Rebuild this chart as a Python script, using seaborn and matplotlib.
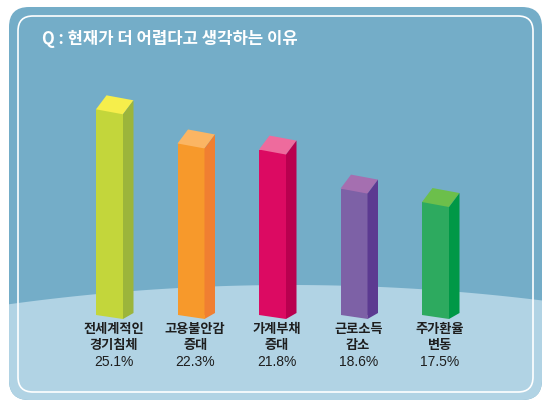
import numpy as np
import matplotlib
matplotlib.use("Agg")
import matplotlib.pyplot as plt
from matplotlib.patches import FancyBboxPatch, Polygon
import seaborn as sns
import pandas as pd

# ---- data ----
categories = ["전세계적인\n경기침체", "고용불안감\n증대", "가계부채\n증대", "근로소득\n감소", "주가환율\n변동"]
values = [25.1, 22.3, 21.8, 18.6, 17.5]
value_labels = ["25.1%", "22.3%", "21.8%", "18.6%", "17.5%"]
title = "Q : 현재가 더 어렵다고 생각하는 이유"

front_colors = ["#C3D63B", "#F7992B", "#DC0A62", "#7D61A6", "#2DAA5F"]
side_colors = ["#9CB53B", "#F07F31", "#B9004F", "#5C3A91", "#009846"]
top_colors = ["#F6EE4B", "#FBB563", "#EE6B9D", "#A56FB0", "#6CBF4B"]

BLUE = "#74ADC8"
HILL = "#B1D3E4"

sns.set_theme(style="white")
plt.rcParams['font.family'] = ['Noto Sans CJK KR', 'DejaVu Sans']

W, H = 550, 409
fig = plt.figure(figsize=(5.5, 4.09), dpi=100)
fig.patch.set_facecolor("white")

# ---- background panel ----
bg = fig.add_axes([0, 0, 1, 1])
bg.set_xlim(0, W)
bg.set_ylim(H, 0)
bg.axis("off")

outer = FancyBboxPatch((9, 7), 533, 393, boxstyle="round,pad=0,rounding_size=20",
                       fc=BLUE, ec="none")
bg.add_patch(outer)
xs = np.linspace(0, W, 300)
Rc = 2060
ys = 285 + (Rc - np.sqrt(Rc ** 2 - (xs - 290) ** 2))
hill = Polygon(np.column_stack([np.r_[xs, W, 0], np.r_[ys, H, H]]), closed=True,
               fc=HILL, ec="none")
bg.add_patch(hill)
hill.set_clip_path(outer)
inner = FancyBboxPatch((18, 16), 515, 376, boxstyle="round,pad=0,rounding_size=15",
                       fc="none", ec="white", lw=1.2)
bg.add_patch(inner)
bg.text(42, 39, title, color="white", fontsize=12, va="center", ha="left",
        fontweight="bold")

# ---- chart axes ----
x_px0, x_step = 109.5, 81.5
base_px, top_px = 315, 60
k = 12.2          # pixels per percentage point
v0 = 8.24         # value at the drawn base
bw = 27 / x_step  # front face width

ax = fig.add_axes([(x_px0 - x_step / 2) / W, (H - base_px) / H,
                   5 * x_step / W, (base_px - top_px) / H])
ax.patch.set_alpha(0)
df = pd.DataFrame({"cat": categories, "val": values})
sns.barplot(data=df, x="cat", y="val", hue="cat", palette=front_colors,
            width=bw, saturation=1, legend=False, ax=ax,
            edgecolor="none", linewidth=0)
ax.set_xlim(-0.5, 4.5)
ax.set_ylim(v0, v0 + (base_px - top_px) / k)
ax.axis("off")

dxd = 10.5 / x_step
dy = 14 / k
s_top = 5 / k
s_bot = 4 / k
side_rise = 2 / k


def frac(py):
    return (base_px - py) / (base_px - top_px)


for i, v in enumerate(values):
    L = i - bw / 2
    R = i + bw / 2
    top = Polygon([(L, v), (R, v - s_top), (R + dxd, v - s_top + dy), (L + dxd, v + dy)],
                  closed=True, fc=top_colors[i], ec="none", zorder=5, clip_on=False)
    side = Polygon([(R, v - s_top), (R + dxd, v - s_top + dy), (R + dxd, v0 + side_rise),
                    (R, v0 - s_bot)],
                   closed=True, fc=side_colors[i], ec="none", zorder=5, clip_on=False)
    foot = Polygon([(L, v0), (R, v0), (R, v0 - s_bot)], closed=True,
                   fc=front_colors[i], ec="none", zorder=5, clip_on=False)
    ax.add_patch(top)
    ax.add_patch(side)
    ax.add_patch(foot)

    lx = i + dxd * 0.4
    l1, l2 = categories[i].split("\n")
    ax.text(lx, frac(329), l1, transform=ax.get_xaxis_transform(), ha="center",
            va="center", fontsize=9.5, fontweight="bold", color="#1e1e1e", zorder=6)
    ax.text(lx, frac(345), l2, transform=ax.get_xaxis_transform(), ha="center",
            va="center", fontsize=9.5, fontweight="bold", color="#1e1e1e", zorder=6)
    ax.text(lx, frac(361.5), value_labels[i], transform=ax.get_xaxis_transform(),
            ha="center", va="center", fontsize=10, color="#1e1e1e", zorder=6,
            family=["Liberation Sans", "DejaVu Sans"])

fig.savefig("out.png", dpi=100, facecolor="white")
